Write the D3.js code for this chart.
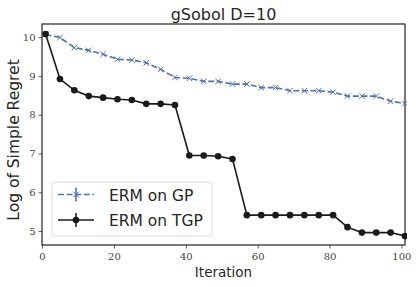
<!DOCTYPE html>
<html>
<head>
<meta charset="utf-8">
<script src="https://cdn.jsdelivr.net/npm/d3@7"></script>
<style>
  body { margin: 0; background: #fff; }
  svg { display: block; }
  .tick text { font-family: "DejaVu Serif", serif; font-size: 10px; fill: #444; }
</style>
</head>
<body>
<svg id="chart" width="416" height="287"></svg>
<script>
// iterations shared by both series
const iterations = [1, 5, 9, 13, 17, 21, 25, 29, 33, 37, 41, 45, 49, 53, 57, 61, 65, 69, 73, 77, 81, 85, 89, 93, 97, 101];

const ermGp = [10.07, 9.99, 9.73, 9.66, 9.56, 9.43, 9.41, 9.34, 9.17, 8.96, 8.94, 8.86, 8.86, 8.79, 8.79, 8.70, 8.70, 8.62, 8.62, 8.62, 8.58, 8.48, 8.48, 8.48, 8.35, 8.29];
const ermTgp = [10.08, 8.92, 8.63, 8.48, 8.44, 8.40, 8.38, 8.28, 8.28, 8.25, 6.95, 6.95, 6.93, 6.86, 5.41, 5.41, 5.41, 5.41, 5.41, 5.41, 5.41, 5.10, 4.96, 4.96, 4.96, 4.87];

const xTicks = [0, 20, 40, 60, 80, 100];
const yTicks = [5, 6, 7, 8, 9, 10];

const seriesNames = ['ERM on GP', 'ERM on TGP'];
const blue = '#4c72b0';
const dark = '#1a1a1a';
const labelFont = '"DejaVu Sans", sans-serif';

const margin = {top: 24, right: 11, bottom: 42, left: 42};
const width = 416 - margin.left - margin.right;
const height = 287 - margin.top - margin.bottom;

const svg = d3.select('#chart');
const g = svg.append('g').attr('transform', `translate(${margin.left},${margin.top})`);

const xScale = d3.scaleLinear().domain([0, 101]).range([0, width]);
const yScale = d3.scaleLinear().domain([4.64, 10.34]).range([height, 0]);

// axes
const xAxis = g.append('g')
    .attr('transform', `translate(0,${height})`)
    .call(d3.axisBottom(xScale).tickValues(xTicks).tickFormat(d3.format('d')).tickSize(3.5).tickPadding(4));
const yAxis = g.append('g')
    .call(d3.axisLeft(yScale).tickValues(yTicks).tickFormat(d3.format('d')).tickSize(3.5).tickPadding(3));
[xAxis, yAxis].forEach(a => {
    a.select('.domain').remove();
    a.selectAll('.tick line').attr('stroke', '#333').attr('stroke-width', 0.8);
});

// frame
g.append('rect')
    .attr('x', 0).attr('y', 0)
    .attr('width', width).attr('height', height)
    .attr('fill', 'none')
    .attr('stroke', '#222')
    .attr('stroke-width', 1.2);

const clip = svg.append('defs').append('clipPath').attr('id', 'plot-clip');
clip.append('rect').attr('x', 0).attr('y', -5).attr('width', width + 2).attr('height', height + 10);

const plot = g.append('g').attr('clip-path', 'url(#plot-clip)');

const line = d3.line()
    .x(d => xScale(d[0]))
    .y(d => yScale(d[1]));

const gpData = iterations.map((it, i) => [it, ermGp[i]]);
const tgpData = iterations.map((it, i) => [it, ermTgp[i]]);

plot.append('path')
    .datum(gpData)
    .attr('d', line)
    .attr('fill', 'none')
    .attr('stroke', blue)
    .attr('stroke-width', 1.6)
    .attr('stroke-dasharray', '6,2.6');

const cross = d3.symbol().type(d3.symbolX).size(22);
plot.selectAll('.gp-marker')
    .data(gpData)
    .enter()
    .append('path')
    .attr('class', 'gp-marker')
    .attr('d', cross)
    .attr('transform', d => `translate(${xScale(d[0])},${yScale(d[1])})`)
    .attr('fill', 'none')
    .attr('stroke', blue)
    .attr('stroke-width', 1);

plot.append('path')
    .datum(tgpData)
    .attr('d', line)
    .attr('fill', 'none')
    .attr('stroke', dark)
    .attr('stroke-width', 1.6);

plot.selectAll('.tgp-marker')
    .data(tgpData)
    .enter()
    .append('circle')
    .attr('class', 'tgp-marker')
    .attr('cx', d => xScale(d[0]))
    .attr('cy', d => yScale(d[1]))
    .attr('r', 3.3)
    .attr('fill', dark);

// title and axis labels
svg.append('text')
    .attr('x', margin.left + width / 2)
    .attr('y', 20)
    .attr('text-anchor', 'middle')
    .attr('font-family', labelFont)
    .attr('font-size', 16)
    .attr('fill', '#262626')
    .text('gSobol D=10');

svg.append('text')
    .attr('x', margin.left + width / 2)
    .attr('y', 277)
    .attr('text-anchor', 'middle')
    .attr('font-family', labelFont)
    .attr('font-size', 13.5)
    .attr('fill', '#262626')
    .text('Iteration');

svg.append('text')
    .attr('transform', `translate(18.5,140) rotate(-90)`)
    .attr('text-anchor', 'middle')
    .attr('font-family', labelFont)
    .attr('font-size', 15.5)
    .attr('fill', '#262626')
    .text('Log of Simple Regret');

// legend
const legend = svg.append('g').attr('transform', 'translate(52,182)');
legend.append('rect')
    .attr('width', 160).attr('height', 54)
    .attr('rx', 3)
    .attr('fill', '#fff')
    .attr('fill-opacity', 0.8)
    .attr('stroke', '#d6d6d6')
    .attr('stroke-width', 0.9);

const legendRows = legend.selectAll('.legend-row')
    .data(seriesNames)
    .enter()
    .append('g')
    .attr('class', 'legend-row')
    .attr('transform', (_, i) => `translate(0,${12.5 + i * 25.5})`);

legendRows.append('line')
    .attr('x1', 6).attr('x2', 42)
    .attr('stroke', (_, i) => i === 0 ? blue : dark)
    .attr('stroke-width', 1.6)
    .attr('stroke-dasharray', (_, i) => i === 0 ? '6,2.6' : null);

legendRows.append('line')
    .attr('x1', 24).attr('x2', 24)
    .attr('y1', -7).attr('y2', 7)
    .attr('stroke', (_, i) => i === 0 ? blue : dark)
    .attr('stroke-width', 1.6);

legendRows.filter((_, i) => i === 0)
    .append('path')
    .attr('d', cross)
    .attr('transform', 'translate(24,0)')
    .attr('fill', 'none')
    .attr('stroke', blue)
    .attr('stroke-width', 1);

legendRows.filter((_, i) => i === 1)
    .append('circle')
    .attr('cx', 24).attr('r', 3.3)
    .attr('fill', dark);

legendRows.append('text')
    .attr('x', 57)
    .attr('y', 6)
    .attr('font-family', labelFont)
    .attr('font-size', 15.5)
    .attr('fill', '#262626')
    .text(d => d);
</script>
</body>
</html>
